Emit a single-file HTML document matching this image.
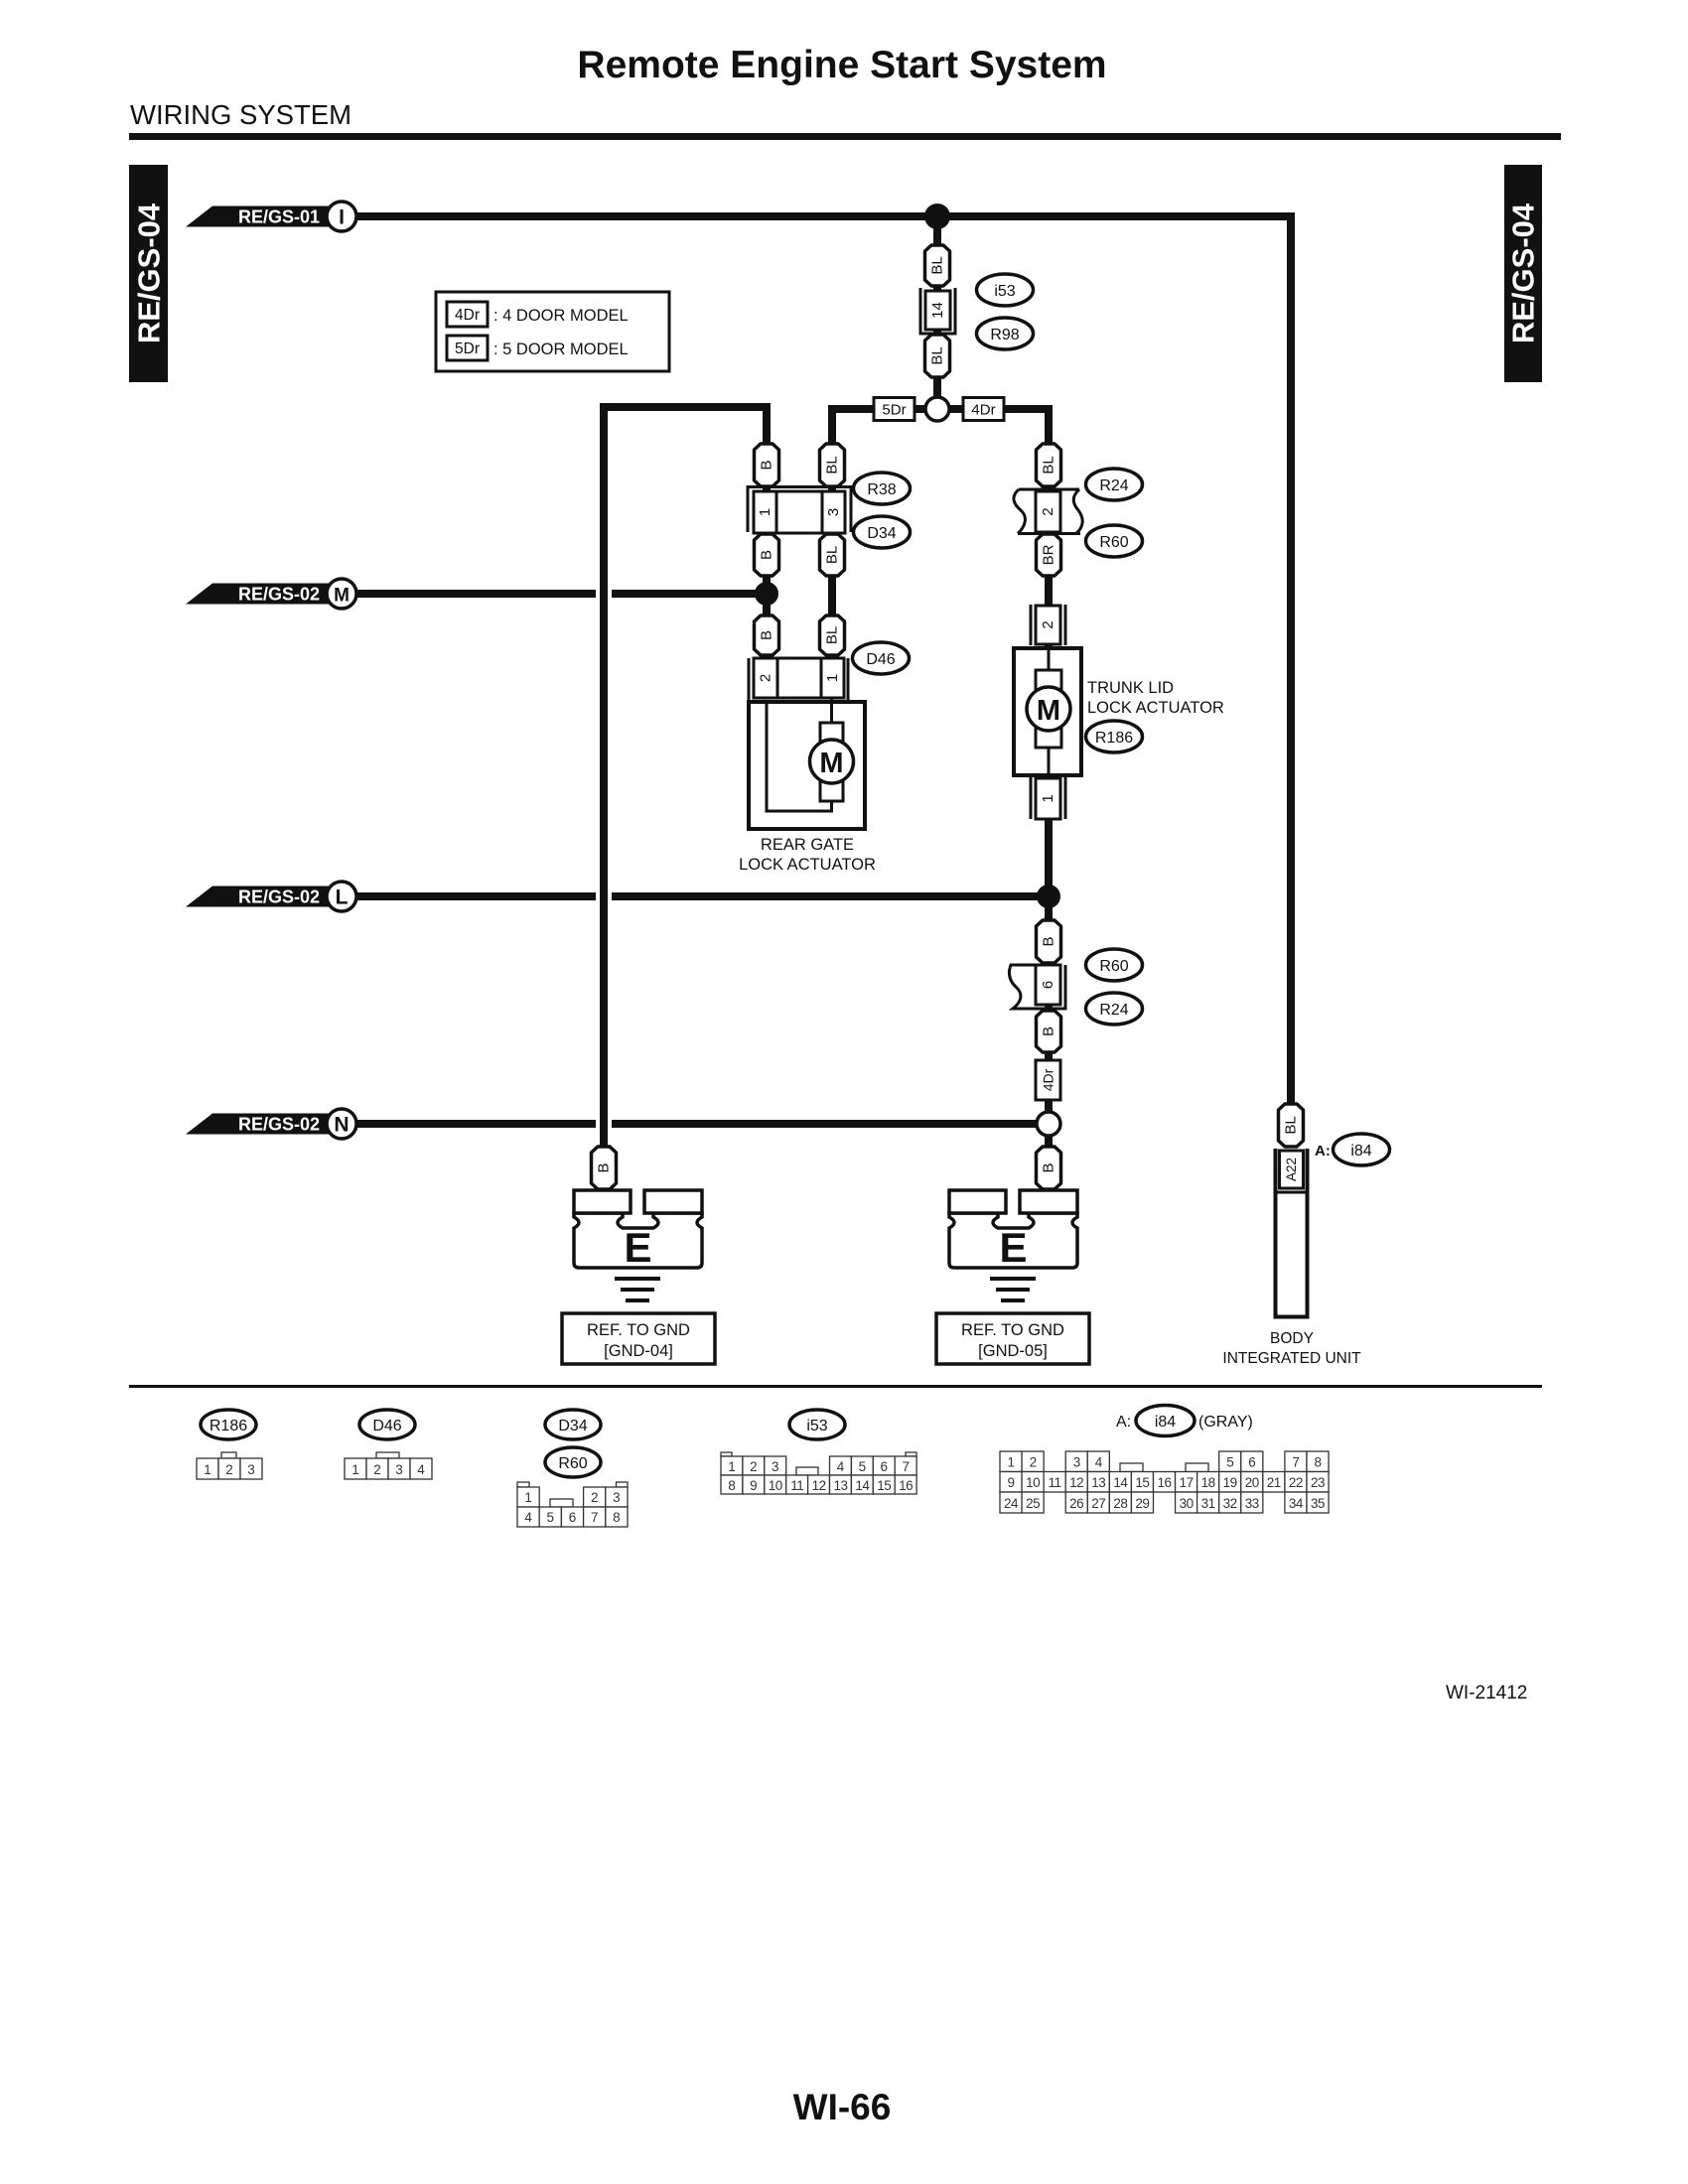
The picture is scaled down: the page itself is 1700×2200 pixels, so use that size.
<!DOCTYPE html>
<html>
<head>
<meta charset="utf-8">
<style>
html,body{margin:0;padding:0;background:#fff;}
svg{display:block;}
.pt{font-size:15px;text-anchor:middle;dominant-baseline:central;}
.lb{font-size:16px;text-anchor:middle;}
.c{fill:#fff;stroke:#333;stroke-width:1.3;}
.n{font-size:13.5px;text-anchor:middle;fill:#333;}
</style>
</head>
<body>
<svg width="1700" height="2200" viewBox="0 0 1700 2200" xmlns="http://www.w3.org/2000/svg" font-family="'Liberation Sans', Arial, sans-serif" fill="#111">
<rect x="0" y="0" width="1700" height="2200" fill="#fff"/>

<!-- Header -->
<text x="848" y="78" font-size="39" font-weight="bold" text-anchor="middle">Remote Engine Start System</text>
<text x="131" y="125" font-size="27.5">WIRING SYSTEM</text>
<rect x="130" y="134" width="1442" height="7"/>

<!-- Side tabs -->
<rect x="130" y="166" width="39" height="219"/>
<text transform="translate(150,275.5) rotate(-90)" fill="#fff" font-size="31" font-weight="bold" text-anchor="middle" dominant-baseline="central">RE/GS-04</text>
<rect x="1515" y="166" width="38" height="219"/>
<text transform="translate(1534,275.5) rotate(-90)" fill="#fff" font-size="31" font-weight="bold" text-anchor="middle" dominant-baseline="central">RE/GS-04</text>

<!-- Legend -->
<rect x="439" y="294" width="235" height="80" fill="#fff" stroke="#111" stroke-width="3"/>
<rect x="450" y="304" width="41" height="25" fill="#fff" stroke="#111" stroke-width="3"/>
<text x="470.5" y="322" font-size="15.5" text-anchor="middle">4Dr</text>
<text x="497" y="323" font-size="16.5">: 4 DOOR MODEL</text>
<rect x="450" y="338" width="41" height="25" fill="#fff" stroke="#111" stroke-width="3"/>
<text x="470.5" y="356" font-size="15.5" text-anchor="middle">5Dr</text>
<text x="497" y="357" font-size="16.5">: 5 DOOR MODEL</text>

<!-- Wires -->
<g fill="none" stroke="#111" stroke-width="8" stroke-linejoin="miter">
<path d="M355,218 H1300 V1114"/>
<path d="M944,218 V412"/>
<path d="M838,662 V412 H1056 V1157"/>
<path d="M608,1157 V410 H772 V662"/>
<path d="M355,598 H600"/><path d="M616,598 H772"/>
<path d="M355,903 H600"/><path d="M616,903 H1056"/>
<path d="M355,1132 H600"/><path d="M616,1132 H1056"/>
</g>

<!-- junction dots -->
<circle cx="944" cy="218" r="13"/>
<circle cx="772" cy="598" r="12"/>
<circle cx="1056" cy="903" r="12"/>
<circle cx="944" cy="412" r="12" fill="#fff" stroke="#111" stroke-width="3.5"/>
<circle cx="1056" cy="1132" r="12" fill="#fff" stroke="#111" stroke-width="3.5"/>

<!-- Connector 14 (i53/R98) -->
<path d="M927,290 V336 H962 V290" fill="none" stroke="#111" stroke-width="3"/>
<rect x="932" y="293" width="25" height="39" fill="#fff" stroke="#111" stroke-width="3"/>
<text class="pt" transform="translate(944.5,312.5) rotate(-90)">14</text>

<!-- 5Dr / 4Dr boxes -->
<rect x="880" y="400.5" width="41" height="23" fill="#fff" stroke="#111" stroke-width="3"/>
<text x="900.5" y="417.5" font-size="15" text-anchor="middle">5Dr</text>
<rect x="970" y="400.5" width="41" height="23" fill="#fff" stroke="#111" stroke-width="3"/>
<text x="990.5" y="417.5" font-size="15" text-anchor="middle">4Dr</text>

<!-- R38/D34 connector -->
<path d="M753,536 V490.5 H857 V536" fill="none" stroke="#111" stroke-width="3"/>
<rect x="759" y="495" width="92" height="42" fill="#fff" stroke="#111" stroke-width="3"/>
<path d="M782,495 V537 M828,495 V537" stroke="#111" stroke-width="3"/>
<text class="pt" transform="translate(770.5,516) rotate(-90)">1</text>
<text class="pt" transform="translate(839.5,516) rotate(-90)">3</text>

<!-- R24/R60 connector (2) -->
<path d="M1026,493 H1087 M1025,537.5 H1088" stroke="#111" stroke-width="3"/>
<path d="M1026,493 C1018,500 1020,507 1028,514 C1036,521 1032,531 1025,537.5" fill="none" stroke="#111" stroke-width="3"/>
<path d="M1087,493 C1079,500 1080,507 1086,514 C1092,522 1092,531 1083,538" fill="none" stroke="#111" stroke-width="3"/>
<rect x="1043" y="495" width="25" height="41" fill="#fff" stroke="#111" stroke-width="3"/>
<text class="pt" transform="translate(1055.5,515.5) rotate(-90)">2</text>

<!-- D46 connector -->
<path d="M754,663 V707 M854,663 V707" stroke="#111" stroke-width="3"/>
<rect x="759" y="663" width="91" height="40" fill="#fff" stroke="#111" stroke-width="3"/>
<path d="M783,663 V703 M827,663 V703" stroke="#111" stroke-width="3"/>
<text class="pt" transform="translate(771,683) rotate(-90)">2</text>
<text class="pt" transform="translate(838.5,683) rotate(-90)">1</text>

<!-- Rear gate actuator -->
<rect x="754" y="707" width="117" height="128" fill="#fff" stroke="#111" stroke-width="4"/>
<path d="M772,707 V817 H837.5 V807" fill="none" stroke="#111" stroke-width="3"/>
<path d="M837.5,703 V728" stroke="#111" stroke-width="3"/>
<rect x="826" y="728" width="23" height="79" fill="#fff" stroke="#111" stroke-width="3"/>
<circle cx="837.5" cy="767" r="22" fill="#fff" stroke="#111" stroke-width="3.5"/>
<text x="837.5" y="778" font-size="29" font-weight="bold" text-anchor="middle">M</text>
<text x="813" y="856" font-size="16.5" text-anchor="middle">REAR GATE</text>
<text x="813" y="876" font-size="16.5" text-anchor="middle">LOCK ACTUATOR</text>

<!-- Trunk connector 2 -->
<path d="M1038,609 V650 M1073,609 V650" stroke="#111" stroke-width="3"/>
<rect x="1043" y="610" width="25" height="39" fill="#fff" stroke="#111" stroke-width="3"/>
<text class="pt" transform="translate(1055.5,629.5) rotate(-90)">2</text>
<!-- Trunk actuator -->
<rect x="1021" y="653" width="68" height="128" fill="#fff" stroke="#111" stroke-width="4"/>
<path d="M1056,653 V675 M1056,753 V781" stroke="#111" stroke-width="3"/>
<rect x="1043" y="675" width="26" height="78" fill="#fff" stroke="#111" stroke-width="3"/>
<circle cx="1056" cy="714" r="22" fill="#fff" stroke="#111" stroke-width="3.5"/>
<text x="1056" y="725" font-size="29" font-weight="bold" text-anchor="middle">M</text>
<!-- Trunk connector 1 -->
<path d="M1038,782 V825 M1073,782 V825" stroke="#111" stroke-width="3"/>
<rect x="1043" y="784" width="25" height="41" fill="#fff" stroke="#111" stroke-width="3"/>
<text class="pt" transform="translate(1055.5,804.5) rotate(-90)">1</text>
<text x="1095" y="698" font-size="16.5">TRUNK LID</text>
<text x="1095" y="718" font-size="16.5">LOCK ACTUATOR</text>

<!-- R60/R24 connector 6 -->
<rect x="1043" y="972" width="25" height="40" fill="#fff" stroke="#111" stroke-width="3"/>
<path d="M1043,972 H1018 C1015,980 1016,988 1024,995 C1031,1002 1028,1010 1020,1016 H1073 V972" fill="none" stroke="#111" stroke-width="3"/>
<text class="pt" transform="translate(1055.5,992) rotate(-90)">6</text>

<!-- 4Dr vertical -->
<rect x="1043" y="1068" width="25" height="40" fill="#fff" stroke="#111" stroke-width="3"/>
<text transform="translate(1055.5,1088) rotate(-90)" font-size="14" text-anchor="middle" dominant-baseline="central">4Dr</text>

<!-- Body integrated unit -->
<path d="M1284.5,1157 V1326.5 H1316.5 V1157" fill="#fff" stroke="#111" stroke-width="4"/>
<path d="M1284.5,1201 H1316.5" stroke="#111" stroke-width="3"/>
<rect x="1288.5" y="1159" width="24" height="38" fill="#fff" stroke="#111" stroke-width="3"/>
<text transform="translate(1300.5,1178) rotate(-90)" font-size="13.5" text-anchor="middle" dominant-baseline="central">A22</text>
<text x="1324" y="1164" font-size="15" font-weight="bold">A:</text>
<text x="1301" y="1353" font-size="15.5" text-anchor="middle">BODY</text>
<text x="1301" y="1373" font-size="15.5" text-anchor="middle">INTEGRATED UNIT</text>

<!-- Pills -->
<g fill="#fff" stroke="#111" stroke-width="3.5" stroke-linejoin="round">
<polygon points="931.5,253 938,247 950,247 956.5,253 956.5,282 950,288 938,288 931.5,282"/>
<polygon points="931.5,343 938,337 950,337 956.5,343 956.5,374 950,380 938,380 931.5,374"/>
<polygon points="759.5,453 766,447 778,447 784.5,453 784.5,484 778,490 766,490 759.5,484"/>
<polygon points="825.5,453 832,447 844,447 850.5,453 850.5,484 844,490 832,490 825.5,484"/>
<polygon points="1043.5,453 1050,447 1062,447 1068.5,453 1068.5,484 1062,490 1050,490 1043.5,484"/>
<polygon points="759.5,544 766,538 778,538 784.5,544 784.5,574 778,580 766,580 759.5,574"/>
<polygon points="825.5,544 832,538 844,538 850.5,544 850.5,574 844,580 832,580 825.5,574"/>
<polygon points="1043.5,544 1050,538 1062,538 1068.5,544 1068.5,574 1062,580 1050,580 1043.5,574"/>
<polygon points="759.5,626 766,620 778,620 784.5,626 784.5,654 778,660 766,660 759.5,654"/>
<polygon points="825.5,626 832,620 844,620 850.5,626 850.5,654 844,660 832,660 825.5,654"/>
<polygon points="1043.5,933 1050,927 1062,927 1068.5,933 1068.5,964 1062,970 1050,970 1043.5,964"/>
<polygon points="1043.5,1024 1050,1018 1062,1018 1068.5,1024 1068.5,1054 1062,1060 1050,1060 1043.5,1054"/>
<polygon points="1043.5,1161 1050,1155 1062,1155 1068.5,1161 1068.5,1192 1062,1198 1050,1198 1043.5,1192"/>
<polygon points="595.5,1161 602,1155 614,1155 620.5,1161 620.5,1192 614,1198 602,1198 595.5,1192"/>
<polygon points="1287.5,1118 1294,1112 1306,1112 1312.5,1118 1312.5,1149 1306,1155 1294,1155 1287.5,1149"/>
</g>
<text class="pt" transform="translate(944,267.5) rotate(-90)">BL</text>
<text class="pt" transform="translate(944,358.5) rotate(-90)">BL</text>
<text class="pt" transform="translate(772,468.5) rotate(-90)">B</text>
<text class="pt" transform="translate(838,468.5) rotate(-90)">BL</text>
<text class="pt" transform="translate(1056,468.5) rotate(-90)">BL</text>
<text class="pt" transform="translate(772,559) rotate(-90)">B</text>
<text class="pt" transform="translate(838,559) rotate(-90)">BL</text>
<text class="pt" transform="translate(1056,559) rotate(-90)">BR</text>
<text class="pt" transform="translate(772,640) rotate(-90)">B</text>
<text class="pt" transform="translate(838,640) rotate(-90)">BL</text>
<text class="pt" transform="translate(1056,948.5) rotate(-90)">B</text>
<text class="pt" transform="translate(1056,1039) rotate(-90)">B</text>
<text class="pt" transform="translate(1056,1176.5) rotate(-90)">B</text>
<text class="pt" transform="translate(608,1176.5) rotate(-90)">B</text>
<text class="pt" transform="translate(1300,1133.5) rotate(-90)">BL</text>

<!-- Ellipse labels -->
<g fill="#fff" stroke="#111" stroke-width="3.5">
<ellipse cx="1012" cy="292" rx="28.5" ry="16"/>
<ellipse cx="1012" cy="336" rx="28.5" ry="16"/>
<ellipse cx="888" cy="492" rx="28.5" ry="16"/>
<ellipse cx="888" cy="536" rx="28.5" ry="16"/>
<ellipse cx="1122" cy="488" rx="28.5" ry="16"/>
<ellipse cx="1122" cy="545" rx="28.5" ry="16"/>
<ellipse cx="887" cy="663" rx="28.5" ry="16"/>
<ellipse cx="1122" cy="742" rx="28.5" ry="16"/>
<ellipse cx="1122" cy="972" rx="28.5" ry="16"/>
<ellipse cx="1122" cy="1016" rx="28.5" ry="16"/>
<ellipse cx="1371" cy="1158" rx="28.5" ry="16"/>
</g>
<text class="lb" x="1012" y="298">i53</text>
<text class="lb" x="1012" y="342">R98</text>
<text class="lb" x="888" y="498">R38</text>
<text class="lb" x="888" y="542">D34</text>
<text class="lb" x="1122" y="494">R24</text>
<text class="lb" x="1122" y="551">R60</text>
<text class="lb" x="887" y="669">D46</text>
<text class="lb" x="1122" y="748">R186</text>
<text class="lb" x="1122" y="978">R60</text>
<text class="lb" x="1122" y="1022">R24</text>
<text class="lb" x="1371" y="1164">i84</text>

<!-- Connector labels left -->
<g>
<polygon points="187,228.5 214,207.5 333,207.5 333,228.5"/>
<text x="322" y="224.5" fill="#fff" font-size="18" font-weight="bold" text-anchor="end">RE/GS-01</text>
<circle cx="344" cy="218" r="15" fill="#fff" stroke="#111" stroke-width="3.5"/>
<text x="344" y="225.5" font-size="21" font-weight="bold" text-anchor="middle">I</text>

<polygon points="187,608.5 214,587.5 333,587.5 333,608.5"/>
<text x="322" y="604.5" fill="#fff" font-size="18" font-weight="bold" text-anchor="end">RE/GS-02</text>
<circle cx="344" cy="598" r="15" fill="#fff" stroke="#111" stroke-width="3.5"/>
<text x="344" y="605.5" font-size="19" font-weight="bold" text-anchor="middle">M</text>

<polygon points="187,913.5 214,892.5 333,892.5 333,913.5"/>
<text x="322" y="909.5" fill="#fff" font-size="18" font-weight="bold" text-anchor="end">RE/GS-02</text>
<circle cx="344" cy="903" r="15" fill="#fff" stroke="#111" stroke-width="3.5"/>
<text x="344" y="910.5" font-size="21" font-weight="bold" text-anchor="middle">L</text>

<polygon points="187,1142.5 214,1121.5 333,1121.5 333,1142.5"/>
<text x="322" y="1138.5" fill="#fff" font-size="18" font-weight="bold" text-anchor="end">RE/GS-02</text>
<circle cx="344" cy="1132" r="15" fill="#fff" stroke="#111" stroke-width="3.5"/>
<text x="344" y="1139.5" font-size="21" font-weight="bold" text-anchor="middle">N</text>
</g>

<!-- Ground left -->
<g fill="#fff" stroke="#111" stroke-width="3.5">
<path d="M578,1222 V1226 Q588,1231.5 578,1237 V1272 Q578,1277 583,1277 H702 Q707,1277 707,1272 V1237 Q697,1231.5 707,1226 V1222 H658 V1226 Q668,1231.5 658,1237 H627 Q617,1231.5 627,1226 V1222 Z"/>
<rect x="578" y="1199" width="57" height="23"/>
<rect x="649" y="1199" width="58" height="23"/>
<rect x="566" y="1323" width="154" height="51"/>
<path d="M956,1222 V1226 Q966,1231.5 956,1237 V1272 Q956,1277 961,1277 H1080 Q1085,1277 1085,1272 V1237 Q1075,1231.5 1085,1226 V1222 H1036 V1226 Q1046,1231.5 1036,1237 H1005 Q995,1231.5 1005,1226 V1222 Z"/>
<rect x="956" y="1199" width="57" height="23"/>
<rect x="1027" y="1199" width="58" height="23"/>
<rect x="943" y="1323" width="154" height="51"/>
</g>
<text x="642.5" y="1271" font-size="42" font-weight="bold" text-anchor="middle">E</text>
<text x="1020.5" y="1271" font-size="42" font-weight="bold" text-anchor="middle">E</text>
<rect x="619" y="1286" width="46" height="4"/>
<rect x="625" y="1297" width="34" height="4"/>
<rect x="630" y="1308" width="24" height="4"/>
<rect x="997" y="1286" width="46" height="4"/>
<rect x="1003" y="1297" width="34" height="4"/>
<rect x="1008" y="1308" width="24" height="4"/>
<text x="643" y="1345" font-size="16.5" text-anchor="middle">REF. TO GND</text>
<text x="643" y="1366" font-size="16.5" text-anchor="middle">[GND-04]</text>
<text x="1020" y="1345" font-size="16.5" text-anchor="middle">REF. TO GND</text>
<text x="1020" y="1366" font-size="16.5" text-anchor="middle">[GND-05]</text>

<!-- Divider -->
<rect x="130" y="1395" width="1423" height="3"/>

<!-- Bottom connector ellipses -->
<g fill="#fff" stroke="#111" stroke-width="3.5">
<ellipse cx="230" cy="1435" rx="28" ry="15"/>
<ellipse cx="390" cy="1435" rx="28" ry="15"/>
<ellipse cx="577" cy="1435" rx="28" ry="15"/>
<ellipse cx="577" cy="1473" rx="28" ry="15"/>
<ellipse cx="823" cy="1435" rx="28" ry="15"/>
<ellipse cx="1173.5" cy="1431" rx="29.5" ry="15.5"/>
</g>
<text class="lb" x="230" y="1441">R186</text>
<text class="lb" x="390" y="1441">D46</text>
<text class="lb" x="577" y="1441">D34</text>
<text class="lb" x="577" y="1479">R60</text>
<text class="lb" x="823" y="1441">i53</text>
<text class="lb" x="1173.5" y="1437">i84</text>
<text x="1124" y="1437" font-size="16">A:</text>
<text x="1207" y="1437" font-size="16">(GRAY)</text>

<!-- R186 connector -->
<rect class="c" x="223" y="1463" width="15" height="6"/>
<rect class="c" x="198" y="1469" width="22" height="21"/>
<rect class="c" x="220" y="1469" width="22" height="21"/>
<rect class="c" x="242" y="1469" width="22" height="21"/>
<text class="n" x="209" y="1485">1</text><text class="n" x="231" y="1485">2</text><text class="n" x="253" y="1485">3</text>

<!-- D46 connector -->
<rect class="c" x="379" y="1463" width="23" height="6"/>
<rect class="c" x="347" y="1469" width="22" height="21"/>
<rect class="c" x="369" y="1469" width="22" height="21"/>
<rect class="c" x="391" y="1469" width="22" height="21"/>
<rect class="c" x="413" y="1469" width="22" height="21"/>
<text class="n" x="358" y="1485">1</text><text class="n" x="380" y="1485">2</text><text class="n" x="402" y="1485">3</text><text class="n" x="424" y="1485">4</text>

<!-- D34/R60 connector -->
<rect class="c" x="521" y="1493" width="12" height="5"/>
<rect class="c" x="620.5" y="1493" width="11.5" height="5"/>
<rect class="c" x="554" y="1510" width="23" height="8"/>
<rect class="c" x="521" y="1498" width="22.2" height="20"/>
<rect class="c" x="587.6" y="1498" width="22.2" height="20"/>
<rect class="c" x="609.8" y="1498" width="22.2" height="20"/>
<rect class="c" x="521" y="1518" width="22.2" height="20"/>
<rect class="c" x="543.2" y="1518" width="22.2" height="20"/>
<rect class="c" x="565.4" y="1518" width="22.2" height="20"/>
<rect class="c" x="587.6" y="1518" width="22.2" height="20"/>
<rect class="c" x="609.8" y="1518" width="22.2" height="20"/>
<text class="n" x="532.1" y="1513">1</text><text class="n" x="598.7" y="1513">2</text><text class="n" x="620.9" y="1513">3</text>
<text class="n" x="532.1" y="1533">4</text><text class="n" x="554.3" y="1533">5</text><text class="n" x="576.5" y="1533">6</text><text class="n" x="598.7" y="1533">7</text><text class="n" x="620.9" y="1533">8</text>

<!-- i53 connector -->
<rect class="c" x="726" y="1463" width="11" height="4"/>
<rect class="c" x="912" y="1463" width="11" height="4"/>
<rect class="c" x="802" y="1478" width="22" height="8"/>
<rect class="c" x="726" y="1467" width="21.9" height="19"/>
<rect class="c" x="747.9" y="1467" width="21.9" height="19"/>
<rect class="c" x="769.8" y="1467" width="21.9" height="19"/>
<rect class="c" x="835.5" y="1467" width="21.9" height="19"/>
<rect class="c" x="857.4" y="1467" width="21.9" height="19"/>
<rect class="c" x="879.3" y="1467" width="21.9" height="19"/>
<rect class="c" x="901.2" y="1467" width="21.9" height="19"/>
<rect class="c" x="726" y="1486" width="21.9" height="19"/>
<rect class="c" x="747.9" y="1486" width="21.9" height="19"/>
<rect class="c" x="769.8" y="1486" width="21.9" height="19"/>
<rect class="c" x="791.7" y="1486" width="21.9" height="19"/>
<rect class="c" x="813.6" y="1486" width="21.9" height="19"/>
<rect class="c" x="835.5" y="1486" width="21.9" height="19"/>
<rect class="c" x="857.4" y="1486" width="21.9" height="19"/>
<rect class="c" x="879.3" y="1486" width="21.9" height="19"/>
<rect class="c" x="901.2" y="1486" width="21.9" height="19"/>
<text class="n" x="737" y="1482">1</text><text class="n" x="758.9" y="1482">2</text><text class="n" x="780.8" y="1482">3</text>
<text class="n" x="846.5" y="1482">4</text><text class="n" x="868.4" y="1482">5</text><text class="n" x="890.3" y="1482">6</text><text class="n" x="912.2" y="1482">7</text>
<text class="n" x="737" y="1501">8</text><text class="n" x="758.9" y="1501">9</text><text class="n" x="780.8" y="1501" letter-spacing="-0.5">10</text><text class="n" x="802.7" y="1501" letter-spacing="-0.5">11</text><text class="n" x="824.6" y="1501" letter-spacing="-0.5">12</text><text class="n" x="846.5" y="1501" letter-spacing="-0.5">13</text><text class="n" x="868.4" y="1501" letter-spacing="-0.5">14</text><text class="n" x="890.3" y="1501" letter-spacing="-0.5">15</text><text class="n" x="912.2" y="1501" letter-spacing="-0.5">16</text>

<!-- i84 connector -->
<rect class="c" x="1128" y="1474" width="23" height="8.5"/>
<rect class="c" x="1194" y="1474" width="23" height="8.5"/>
<g>
<rect class="c" x="1007" y="1462" width="22.07" height="20.5"/>
<rect class="c" x="1029.07" y="1462" width="22.07" height="20.5"/>
<rect class="c" x="1073.21" y="1462" width="22.07" height="20.5"/>
<rect class="c" x="1095.28" y="1462" width="22.07" height="20.5"/>
<rect class="c" x="1227.7" y="1462" width="22.07" height="20.5"/>
<rect class="c" x="1249.77" y="1462" width="22.07" height="20.5"/>
<rect class="c" x="1293.91" y="1462" width="22.07" height="20.5"/>
<rect class="c" x="1315.98" y="1462" width="22.07" height="20.5"/>
</g>
<g>
<rect class="c" x="1007" y="1482.5" width="22.07" height="20.5"/>
<rect class="c" x="1029.07" y="1482.5" width="22.07" height="20.5"/>
<rect class="c" x="1051.14" y="1482.5" width="22.07" height="20.5"/>
<rect class="c" x="1073.21" y="1482.5" width="22.07" height="20.5"/>
<rect class="c" x="1095.28" y="1482.5" width="22.07" height="20.5"/>
<rect class="c" x="1117.35" y="1482.5" width="22.07" height="20.5"/>
<rect class="c" x="1139.42" y="1482.5" width="22.07" height="20.5"/>
<rect class="c" x="1161.49" y="1482.5" width="22.07" height="20.5"/>
<rect class="c" x="1183.56" y="1482.5" width="22.07" height="20.5"/>
<rect class="c" x="1205.63" y="1482.5" width="22.07" height="20.5"/>
<rect class="c" x="1227.7" y="1482.5" width="22.07" height="20.5"/>
<rect class="c" x="1249.77" y="1482.5" width="22.07" height="20.5"/>
<rect class="c" x="1271.84" y="1482.5" width="22.07" height="20.5"/>
<rect class="c" x="1293.91" y="1482.5" width="22.07" height="20.5"/>
<rect class="c" x="1315.98" y="1482.5" width="22.07" height="20.5"/>
</g>
<g>
<rect class="c" x="1007" y="1503" width="22.07" height="21"/>
<rect class="c" x="1029.07" y="1503" width="22.07" height="21"/>
<rect class="c" x="1073.21" y="1503" width="22.07" height="21"/>
<rect class="c" x="1095.28" y="1503" width="22.07" height="21"/>
<rect class="c" x="1117.35" y="1503" width="22.07" height="21"/>
<rect class="c" x="1139.42" y="1503" width="22.07" height="21"/>
<rect class="c" x="1183.56" y="1503" width="22.07" height="21"/>
<rect class="c" x="1205.63" y="1503" width="22.07" height="21"/>
<rect class="c" x="1227.7" y="1503" width="22.07" height="21"/>
<rect class="c" x="1249.77" y="1503" width="22.07" height="21"/>
<rect class="c" x="1293.91" y="1503" width="22.07" height="21"/>
<rect class="c" x="1315.98" y="1503" width="22.07" height="21"/>
</g>
<g class="n" letter-spacing="-0.5">
<text class="n" x="1018" y="1477.5">1</text><text class="n" x="1040.1" y="1477.5">2</text>
<text class="n" x="1084.2" y="1477.5">3</text><text class="n" x="1106.3" y="1477.5">4</text>
<text class="n" x="1238.7" y="1477.5">5</text><text class="n" x="1260.8" y="1477.5">6</text>
<text class="n" x="1304.9" y="1477.5">7</text><text class="n" x="1327" y="1477.5">8</text>
<text class="n" x="1018" y="1498">9</text><text class="n" x="1040.1" y="1498">10</text><text class="n" x="1062.1" y="1498">11</text><text class="n" x="1084.2" y="1498">12</text><text class="n" x="1106.3" y="1498">13</text><text class="n" x="1128.4" y="1498">14</text><text class="n" x="1150.4" y="1498">15</text><text class="n" x="1172.5" y="1498">16</text><text class="n" x="1194.6" y="1498">17</text><text class="n" x="1216.6" y="1498">18</text><text class="n" x="1238.7" y="1498">19</text><text class="n" x="1260.8" y="1498">20</text><text class="n" x="1282.8" y="1498">21</text><text class="n" x="1304.9" y="1498">22</text><text class="n" x="1327" y="1498">23</text>
<text class="n" x="1018" y="1519">24</text><text class="n" x="1040.1" y="1519">25</text>
<text class="n" x="1084.2" y="1519">26</text><text class="n" x="1106.3" y="1519">27</text><text class="n" x="1128.4" y="1519">28</text><text class="n" x="1150.4" y="1519">29</text>
<text class="n" x="1194.6" y="1519">30</text><text class="n" x="1216.6" y="1519">31</text><text class="n" x="1238.7" y="1519">32</text><text class="n" x="1260.8" y="1519">33</text>
<text class="n" x="1304.9" y="1519">34</text><text class="n" x="1327" y="1519">35</text>
</g>

<!-- Footer -->
<text x="1456" y="1711" font-size="19">WI-21412</text>
<text x="848" y="2135" font-size="37" font-weight="bold" text-anchor="middle">WI-66</text>
</svg>
</body>
</html>
